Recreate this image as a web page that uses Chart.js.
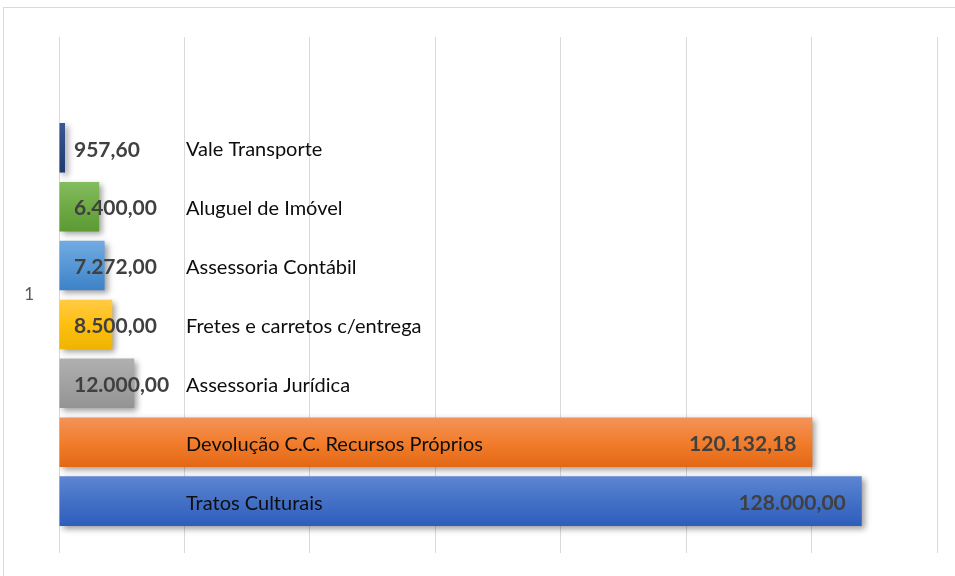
<!DOCTYPE html>
<html>
<head>
<meta charset="utf-8">
<script src="https://cdn.jsdelivr.net/npm/chart.js@4/dist/chart.umd.min.js"></script>
<style>
  html, body { margin: 0; padding: 0; background: #ffffff; overflow: hidden; }
  #wrap { position: relative; width: 955px; height: 576px; }
  #frame { position: absolute; left: 3px; top: 7px; width: 970px; height: 600px; border: 1px solid #d9d9d9; box-sizing: border-box; }
  canvas { position: absolute; left: 0; top: 0; }
</style>
</head>
<body>
<div id="wrap">
  <div id="frame"></div>
  <canvas id="c" width="955" height="576"></canvas>
</div>
<script>
// ---- data ----
const categories = ['1'];
const seriesNames = ['', 'Vale Transporte', 'Aluguel de Imóvel', 'Assessoria Contábil', 'Fretes e carretos c/entrega', 'Assessoria Jurídica', 'Devolução C.C. Recursos Próprios', 'Tratos Culturais'];
const seriesValues = [null, 957.60, 6400.00, 7272.00, 8500.00, 12000.00, 120132.18, 128000.00];
const xTickValues = [0, 20000, 40000, 60000, 80000, 100000, 120000, 140000];

// ---- styles ----
const gradStops = [
  null,
  ['#3a5894', '#2a4a80', '#1f3c70'],
  ['#84bd5f', '#6eaa45', '#5c9a34'],
  ['#72abe2', '#5797d4', '#3d82c7'],
  ['#ffcb45', '#ffbf10', '#eeb400'],
  ['#b0b0b0', '#a2a2a2', '#939393'],
  ['#f3935a', '#f27d2c', '#e36815'],
  ['#5d86d2', '#4471c6', '#2e5dbd']
];
const FONT = 'Lato, "Open Sans", sans-serif';

function fmtBR(v) {
  const parts = v.toFixed(2).split('.');
  const intPart = parts[0].replace(/\B(?=(\d{3})+(?!\d))/g, '.');
  return intPart + ',' + parts[1];
}

const gradientPlugin = {
  id: 'gradients',
  beforeDatasetsDraw(chart) {
    const ctx = chart.ctx;
    chart.data.datasets.forEach((ds, i) => {
      const meta = chart.getDatasetMeta(i);
      const stops = gradStops[i];
      if (!stops) return;
      meta.data.forEach(el => {
        const h = el.height;
        const g = ctx.createLinearGradient(0, el.y - h / 2, 0, el.y + h / 2);
        g.addColorStop(0, stops[0]);
        g.addColorStop(0.5, stops[1]);
        g.addColorStop(1, stops[2]);
        el.options.backgroundColor = g;
      });
    });
  },
  beforeDatasetDraw(chart) {
    const ctx = chart.ctx;
    ctx.save();
    ctx.shadowColor = 'rgba(0,0,0,0.38)';
    ctx.shadowBlur = 6;
    ctx.shadowOffsetX = 3;
    ctx.shadowOffsetY = 3;
  },
  afterDatasetDraw(chart) {
    chart.ctx.restore();
  }
};

const labelPlugin = {
  id: 'barLabels',
  afterDatasetsDraw(chart) {
    const ctx = chart.ctx;
    const xs = chart.scales.x;
    const x0 = xs.getPixelForValue(0);
    ctx.save();
    ctx.textBaseline = 'middle';
    chart.data.datasets.forEach((ds, i) => {
      const v = ds.data[0];
      if (v === null || v === undefined) return;
      const el = chart.getDatasetMeta(i).data[0];
      const y = el.y + 2;
      const big = el.x - x0 > 200;
      ctx.font = 'bold 21px ' + FONT;
      ctx.fillStyle = '#404040';
      if (big) {
        ctx.textAlign = 'right';
        ctx.fillText(fmtBR(v), el.x - 16, y);
      } else {
        ctx.textAlign = 'left';
        ctx.fillText(fmtBR(v), x0 + 15, y);
      }
      ctx.font = '20px ' + FONT;
      ctx.fillStyle = '#0d0d0d';
      ctx.textAlign = 'left';
      ctx.fillText(ds.label, x0 + 127, y);
    });
    ctx.restore();
  }
};

new Chart(document.getElementById('c'), {
  type: 'bar',
  data: {
    labels: categories,
    datasets: seriesNames.map((name, i) => ({
      label: name,
      data: [seriesValues[i]],
      backgroundColor: gradStops[i] ? gradStops[i][1] : 'rgba(0,0,0,0)',
      borderWidth: 0,
      categoryPercentage: 0.913,
      barPercentage: 0.842
    }))
  },
  options: {
    indexAxis: 'y',
    responsive: false,
    animation: false,
    devicePixelRatio: 1,
    layout: { padding: { left: 0, right: 18, top: 37, bottom: 23 } },
    plugins: {
      legend: { display: false },
      tooltip: { enabled: false }
    },
    scales: {
      x: {
        min: 0,
        max: 140000,
        afterBuildTicks(scale) { scale.ticks = xTickValues.map(v => ({ value: v })); },
        ticks: { display: false },
        grid: { color: '#d9d9d9', lineWidth: 1, drawTicks: false },
        border: { display: false },
        afterFit(scale) { scale.height = 0; }
      },
      y: {
        grid: { display: false, drawTicks: false },
        border: { display: false },
        ticks: { color: '#595959', font: { family: FONT, size: 17 }, padding: 25 },
        afterFit(scale) {
          scale.width = 59;
          scale.paddingTop = 0;
          scale.paddingBottom = 0;
        }
      }
    }
  },
  plugins: [gradientPlugin, labelPlugin]
});
</script>
</body>
</html>
